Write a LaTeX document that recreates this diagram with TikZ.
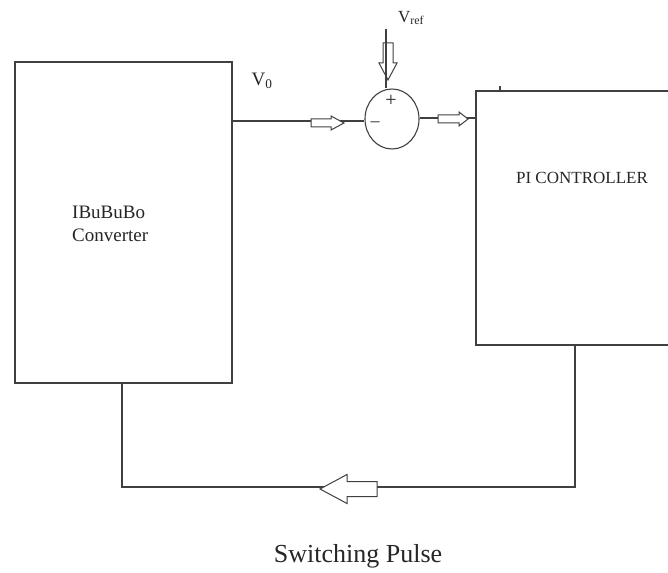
\documentclass[tikz,border=0pt]{standalone}
\usepackage{fontspec}
\setmainfont{Liberation Serif}
\usetikzlibrary{shapes.geometric}
\tikzstyle{block} = [
    rectangle,
    minimum width=217pt,
    minimum height=321pt,
    draw=black!75,
    line width=1.2pt
]
\tikzstyle{summer} = [
    ellipse,
    minimum width=54pt,
    minimum height=60pt,
    inner sep=0pt,
    draw=black!75,
    line width=1.1pt
]
\tikzstyle{wire} = [draw=black!75, line width=1.1pt]
\tikzstyle{lbl} = [inner sep=0pt, text=black!85]
% hollow block arrow: length, shaft half width, head half width, head length
\tikzset{
    pics/hollowarr/.style n args={4}{code={
        \draw [draw=black!75, fill=white, line width=1pt, line join=miter]
            ({-#1/2},{-#2}) -- ({#1/2-#4},{-#2}) -- ({#1/2-#4},{-#3}) -- ({#1/2},0)
            -- ({#1/2-#4},{#3}) -- ({#1/2-#4},{#2}) -- ({-#1/2},{#2}) -- cycle;
    }}
}

\begin{document}
\begin{tikzpicture}[x=1pt, y=-1pt]

\clip (0,0) rectangle (668,572);
\fill[white] (0,0) rectangle (668,572);

\node (conv) [block] at (123.5,222.5) {};
\node (convtxt) [lbl, anchor=north west, align=left, font=\fontsize{19}{23}\selectfont] at (72,206)
{IBuBuBo\\Converter};

\node (sum) [summer] at (392,119) {};
\node (plus) [lbl, font=\fontsize{20}{20}\selectfont] at (391,101) {+};
\node (minus) [lbl, font=\fontsize{18}{18}\selectfont] at (375,124) {–};

\node (pi) [block, minimum width=244pt, minimum height=254pt] at (598,218) {};
\node (pitxt) [lbl, font=\fontsize{17}{20}\selectfont] at (582,178) {PI CONTROLLER};

\node (vo) [lbl, font=\fontsize{19}{20}\selectfont] at (262,81) {V\textsubscript{0}};
\node (vref) [lbl, font=\fontsize{17}{18}\selectfont] at (411,18) {V\textsubscript{ref}};
\coordinate (reftop) at (386,29);

\node (pulse) [lbl, font=\fontsize{26}{30}\selectfont] at (358,556) {Switching Pulse};

% forward path
\draw [wire] (conv.east |- 0,121) -- (sum.west |- 0,121);
\draw [wire] (sum.east |- 0,118) -- (pi.west |- 0,118);
\draw [wire] (500,86) -- (500,91);

% feedback path
\coordinate (fbr) at (575,487);
\coordinate (fbl) at (122,487);
\draw [wire] (pi.south -| fbr) -- (fbr) -- (fbl) -- (conv.south -| fbl);

\pic at (327.5,123) {hollowarr={33}{4}{7}{13}};
\pic [rotate=-90] at (388,61.5) {hollowarr={37}{5}{9}{17}};
\pic at (453,119) {hollowarr={30}{4}{7}{9}};
\pic [rotate=180] at (348.5,489) {hollowarr={57}{7.5}{14.5}{27}};

% reference line runs over its arrow
\draw [wire] (reftop) -- (sum.north -| reftop);

\end{tikzpicture}
\end{document}
